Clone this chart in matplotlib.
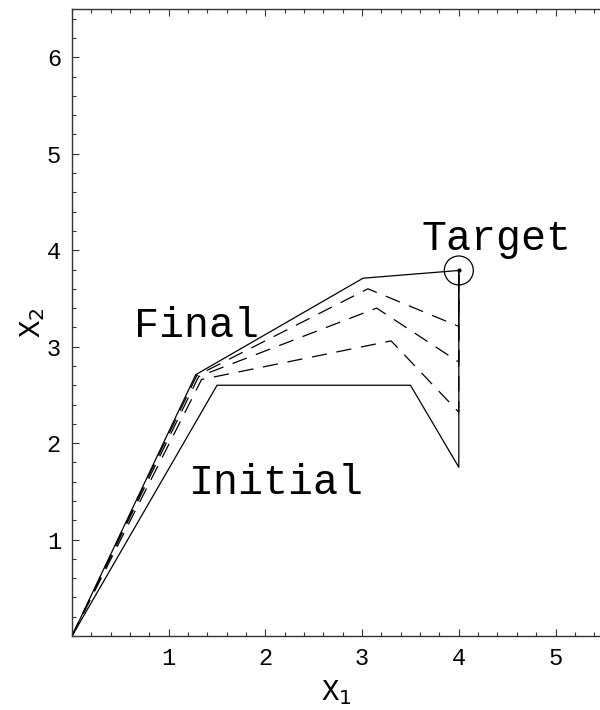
import matplotlib
matplotlib.use("Agg")
import matplotlib.pyplot as plt
from matplotlib.patches import Circle
from matplotlib.ticker import MultipleLocator

plt.rcParams['font.family'] = ['Liberation Mono', 'DejaVu Sans Mono']
plt.rcParams['lines.scale_dashes'] = False

# Arm configurations: joint positions (x1, x2)
initial_x = [0, 1.5, 3.5, 4.0, 4.0]
initial_y = [0, 2.6, 2.6, 1.75, 3.79]

final_x = [0, 1.28, 3.01, 4.0]
final_y = [0, 2.71, 3.71, 3.79]

# Intermediate iterations
iter1_x = [0, 1.29, 3.06, 4.0, 4.0]
iter1_y = [0, 2.70, 3.60, 3.21, 3.79]
iter2_x = [0, 1.31, 3.15, 4.0, 4.0]
iter2_y = [0, 2.69, 3.40, 2.84, 3.79]
iter3_x = [0, 1.34, 3.30, 4.0, 4.0]
iter3_y = [0, 2.66, 3.06, 2.32, 3.79]

target = (4.0, 3.79)
target_radius = 0.15

fig = plt.figure(figsize=(6, 7.1), dpi=100)
ax = fig.add_axes([0.12, 0.1042, 0.88, 0.883])

ax.plot(initial_x, initial_y, color='black', lw=0.9)
ax.plot(final_x, final_y, color='black', lw=0.9)
for xs, ys in [(iter1_x, iter1_y), (iter2_x, iter2_y), (iter3_x, iter3_y)]:
    ax.plot(xs, ys, color='black', lw=0.9, dashes=(11, 7))

ax.plot(*target, 'o', color='black', ms=2)
ax.add_patch(Circle(target, target_radius, fill=False, color='black', lw=0.9))

ax.text(4.39, 4.12, "Target", fontsize=30, ha='center', va='center')
ax.text(1.29, 3.21, "Final", fontsize=30, ha='center', va='center')
ax.text(2.11, 1.59, "Initial", fontsize=30, ha='center', va='center')

ax.set_xlim(0, 5.46)
ax.set_ylim(0, 6.5)

ax.xaxis.set_minor_locator(MultipleLocator(0.2))
ax.yaxis.set_minor_locator(MultipleLocator(0.2))
ax.set_xticks([1, 2, 3, 4, 5])
ax.set_yticks([1, 2, 3, 4, 5, 6])

ax.tick_params(which='both', direction='in', top=True, right=False,
               labelsize=17, color='#333333', width=0.8, pad=8)
ax.tick_params(which='major', length=5)
ax.tick_params(which='minor', length=3)
ax.spines['right'].set_visible(False)
for s in ['left', 'bottom', 'top']:
    ax.spines[s].set_linewidth(1.0)
    ax.spines[s].set_color('#333333')

ax.set_xlabel(r"X$_1$", fontsize=21, labelpad=6)
ax.set_ylabel(r"X$_2$", fontsize=21, labelpad=0)

fig.savefig("out.png", dpi=100)
